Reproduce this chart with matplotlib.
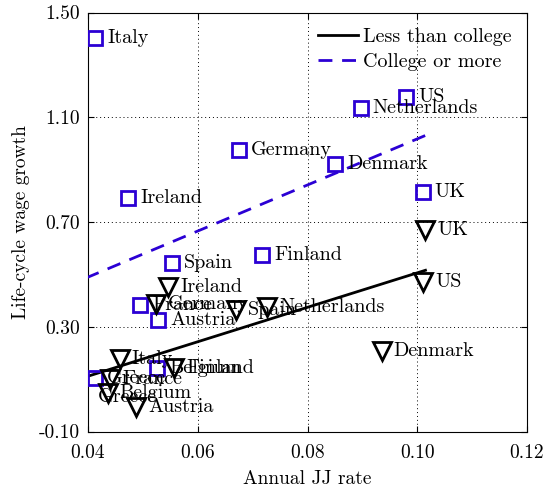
import numpy as np
import matplotlib
matplotlib.use("Agg")
import matplotlib.pyplot as plt

plt.rcParams['font.family'] = 'serif'
plt.rcParams['font.serif'] = ['cmr10', 'DejaVu Serif']
plt.rcParams['mathtext.fontset'] = 'cm'
plt.rcParams['axes.formatter.use_mathtext'] = True

# ---- data ----
countries_college = ['Italy', 'US', 'Netherlands', 'Germany', 'Denmark', 'UK', 'Ireland',
                     'Finland', 'Spain', 'France', 'Austria', 'Belgium', 'Greece']
jj_college = [0.0413, 0.0980, 0.0897, 0.0675, 0.0850, 0.1010, 0.0473,
              0.0717, 0.0553, 0.0495, 0.0528, 0.0526, 0.0413]
wg_college = [1.403, 1.177, 1.135, 0.975, 0.922, 0.815, 0.792,
              0.574, 0.544, 0.383, 0.326, 0.143, 0.104]

countries_less = ['UK', 'US', 'Denmark', 'Ireland', 'Germany', 'Spain', 'Netherlands',
                  'Italy', 'Finland', 'France', 'Belgium', 'Austria', 'Greece']
jj_less = [0.1015, 0.1011, 0.0935, 0.0546, 0.0524, 0.0669, 0.0726,
           0.0458, 0.0557, 0.0440, 0.0436, 0.0488, 0.0396]
wg_less = [0.670, 0.471, 0.208, 0.450, 0.385, 0.365, 0.377,
           0.178, 0.141, 0.101, 0.046, -0.005, 0.032]

xticks = [0.04, 0.06, 0.08, 0.10, 0.12]
xticklabels = ['0.04', '0.06', '0.08', '0.10', '0.12']
yticks = [-0.10, 0.30, 0.70, 1.10, 1.50]
yticklabels = ['-0.10', '0.30', '0.70', '1.10', '1.50']

blue = '#2b00d4'
xlim = (0.04, 0.12)
ylim = (-0.10, 1.50)

fig = plt.figure(figsize=(5.44, 4.87), dpi=100)
ax = fig.add_axes([88/544, 1-431.5/487, (527-88)/544, (431.5-12.5)/487])

jc = np.array(jj_college); wc = np.array(wg_college)
jl = np.array(jj_less); wl = np.array(wg_less)

# fitted lines (OLS over each group), drawn over the full data range
xr = np.array([min(jc.min(), jl.min()), max(jc.max(), jl.max())])
pl = np.polyfit(jl, wl, 1)
pc = np.polyfit(jc, wc, 1)
ax.plot(xr, np.polyval(pl, xr), color='black', lw=2, label='Less than college', zorder=3)
ax.plot(xr, np.polyval(pc, xr), color=blue, lw=2, ls=(0, (5, 3.5)), label='College or more', zorder=3)

# markers (points outside axes limits are not shown, as in the original)
mc = (jc >= xlim[0]) & (jc <= xlim[1])
ml = (jl >= xlim[0]) & (jl <= xlim[1])
ax.plot(jc[mc], wc[mc], ls='none', marker='s', ms=10.5, mfc='none', mec=blue, mew=2, zorder=4)
ax.plot(jl[ml], wl[ml], ls='none', marker='v', ms=12.5, mfc='none', mec='black', mew=2, zorder=4)

fs = 14.5
dx = 0.0022
for name, x, y in zip(countries_college, jj_college, wg_college):
    ax.text(x + dx, y, name, fontsize=fs, va='center', ha='left', clip_on=False, zorder=5)
for name, x, y in zip(countries_less, jj_less, wg_less):
    ax.text(x + dx, y, name, fontsize=fs, va='center', ha='left', clip_on=False, zorder=5)

ax.set_xlim(*xlim)
ax.set_ylim(*ylim)
ax.set_xticks(xticks)
ax.set_xticklabels(xticklabels)
ax.set_yticks(yticks)
ax.set_yticklabels(yticklabels)
ax.tick_params(direction='in', length=4, labelsize=14, top=True, right=True,
               labeltop=False, labelright=False, pad=6)
ax.tick_params(axis='x', pad=9)
ax.grid(True, ls=(0, (1, 3)), color='black', lw=0.7)
for s in ax.spines.values():
    s.set_linewidth(0.8)

ax.set_xlabel('Annual JJ rate', fontsize=14, labelpad=6)
ax.set_ylabel('Life-cycle wage growth', fontsize=14, labelpad=6)

leg = ax.legend(loc='upper right', frameon=False, fontsize=fs, handlelength=2.0,
                handletextpad=0.25, borderaxespad=0.35, labelspacing=0.35)

fig.savefig('out.png', dpi=100)
